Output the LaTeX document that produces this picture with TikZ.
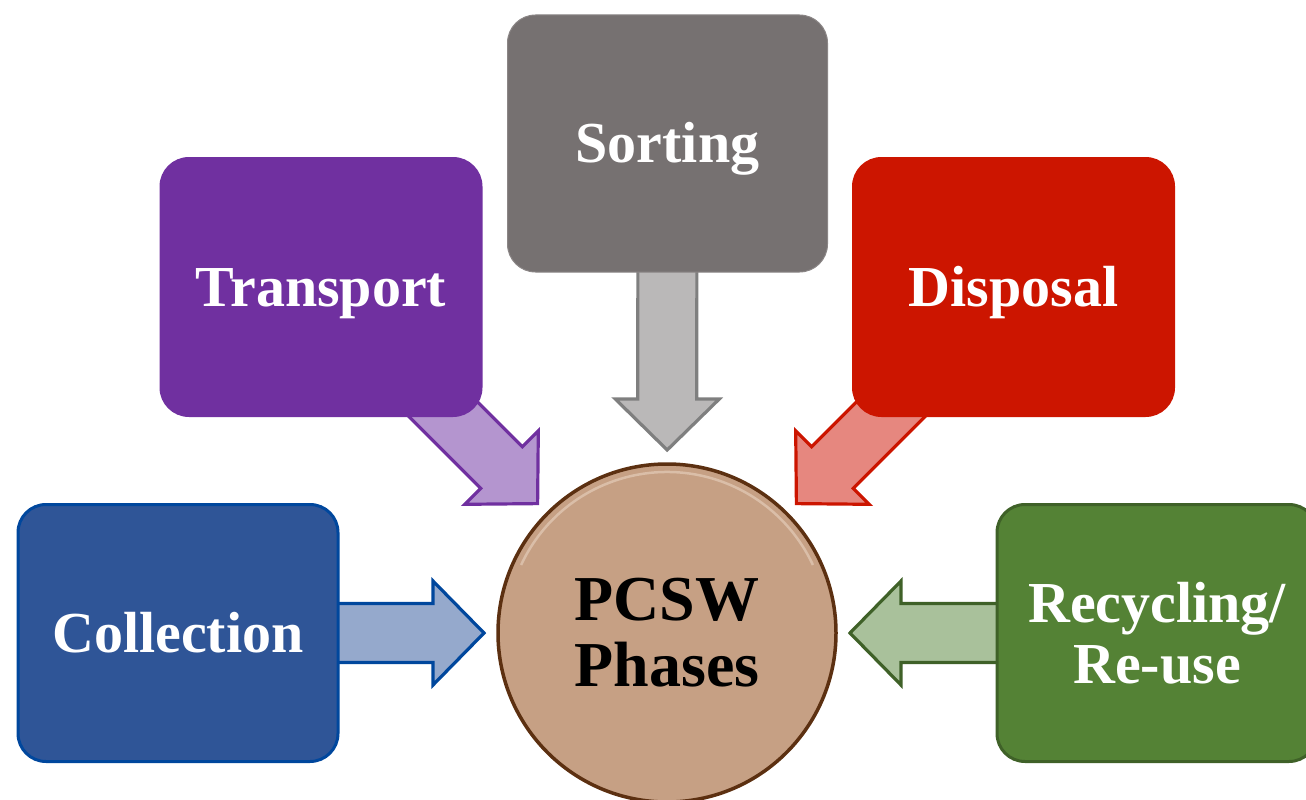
\documentclass[tikz,border=0pt]{standalone}
\usepackage{fontspec}
\setmainfont{Liberation Serif}
\usetikzlibrary{calc}
\definecolor{collF}{HTML}{2F5597}
\definecolor{collD}{HTML}{00479D}
\definecolor{collA}{HTML}{95A9CC}
\definecolor{transF}{HTML}{7030A0}
\definecolor{transA}{HTML}{B495CF}
\definecolor{sortF}{HTML}{767171}
\definecolor{sortD}{HTML}{7F7F7F}
\definecolor{sortA}{HTML}{BAB8B8}
\definecolor{dispF}{HTML}{CC1500}
\definecolor{dispA}{HTML}{E6877F}
\definecolor{recF}{HTML}{548235}
\definecolor{recD}{HTML}{3F6128}
\definecolor{recA}{HTML}{A9C19B}
\definecolor{pcF}{HTML}{C6A084}
\definecolor{pcD}{HTML}{5C3011}
\definecolor{pcL}{HTML}{E8D2C0}
\newcommand\blockarrow[2]{%
  \coordinate (ba-t) at ($(pc.center)!183pt!(#2)$);
  \coordinate (ba-h) at ($(ba-t)!51pt!(#2)$);
  \draw[#1] ($(#2)!29.5pt!90:(ba-t)$) -- ($(ba-h)!29.5pt!90:(ba-t)$)
    -- ($(ba-h)!52pt!90:(ba-t)$) -- (ba-t) -- ($(ba-h)!52pt!-90:(ba-t)$)
    -- ($(ba-h)!29.5pt!-90:(ba-t)$) -- ($(#2)!29.5pt!-90:(ba-t)$) -- cycle;
}
\begin{document}
\begin{tikzpicture}[x=1pt,y=-1pt,
  phase/.style={rectangle, rounded corners=28pt, minimum width=320pt,
    minimum height=257pt, inner sep=0pt, text=white, line width=3pt,
    font=\bfseries\fontsize{58}{61}\selectfont, align=center},
  onetext/.style={text height=38pt, text depth=0pt},
  barrow/.style={line width=3.2pt, line join=miter}]
\useasboundingbox (0,0) rectangle (1306,800);
% centre circle
\node[circle, minimum size=338pt, inner sep=0pt, fill=pcF, draw=pcD, line width=3.5pt,
  font=\bfseries\fontsize{64}{66}\selectfont, align=center] (pc) at (667,633) {PCSW\\Phases};
\draw[pcL, line width=2.5pt, opacity=0.6] ($(pc.center)+(205:161)$) arc[start angle=205, end angle=335, radius=161];
% box centres (boxes drawn after arrows)
\path (178,633) coordinate (collC) (321,287) coordinate (transC) (667.5,143.5) coordinate (sortC)
      (1013.5,287) coordinate (dispC) (1157,633) coordinate (recC);
\coordinate (transS) at ($(transC)+(83,83)$);
\coordinate (dispS) at ($(dispC)+(-83.5,83)$);
% arrows
\blockarrow{barrow, fill=collA, draw=collD}{collC}
\blockarrow{barrow, fill=transA, draw=transF}{transS}
\blockarrow{barrow, fill=sortA, draw=sortD}{sortC}
\blockarrow{barrow, fill=dispA, draw=dispF}{dispS}
\blockarrow{barrow, fill=recA, draw=recD}{recC}
% boxes
\node[phase, onetext, fill=collF, draw=collD] (coll) at (collC) {Collection};
\node[phase, onetext, fill=transF, draw=transF] (trans) at (transC) {Transport};
\node[phase, onetext, fill=sortF, draw=sortF!85!white, line width=1pt] (sort) at (sortC) {Sorting};
\node[phase, onetext, fill=dispF, draw=dispF] (disp) at (dispC) {Disposal};
\node[phase, fill=recF, draw=recD] (rec) at (recC) {Recycling/\\Re-use};
\end{tikzpicture}
\end{document}
